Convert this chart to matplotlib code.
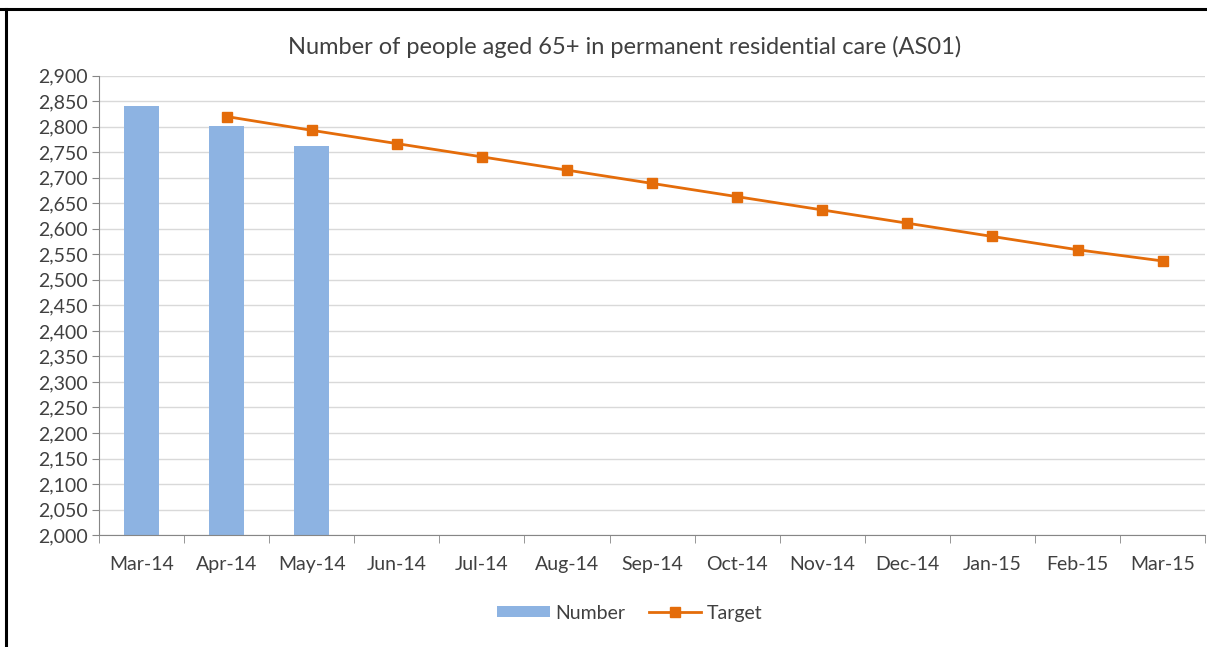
import numpy as np
import matplotlib
matplotlib.use("Agg")
import matplotlib.pyplot as plt
from matplotlib.ticker import FuncFormatter, MultipleLocator

plt.rcParams['font.family'] = ['Lato', 'DejaVu Sans']

months = ["Mar-14", "Apr-14", "May-14", "Jun-14", "Jul-14", "Aug-14", "Sep-14",
          "Oct-14", "Nov-14", "Dec-14", "Jan-15", "Feb-15", "Mar-15"]
number = [2841, 2802, 2763]
target = [np.nan, 2820, 2793, 2767, 2741, 2715, 2689, 2663, 2637, 2611,
          2585, 2559, 2537]

bar_color = "#8DB3E2"
line_color = "#E46C0A"
text_color = "#404040"

fig = plt.figure(figsize=(12.07, 6.47), dpi=100)
ax = fig.add_axes([0.082, 0.173, 0.9165, 0.71])

x = np.arange(len(months))
bars = ax.bar(x[:len(number)], number, width=0.41, color=bar_color, label="Number", zorder=2)
line, = ax.plot(x, target, color=line_color, lw=2, marker="s", ms=7.5, label="Target", zorder=3)

ax.set_xlim(-0.5, len(months) - 0.5)
ax.set_ylim(2000, 2900)
ax.yaxis.set_major_locator(MultipleLocator(50))
ax.yaxis.set_major_formatter(FuncFormatter(lambda v, p: f"{int(v):,}"))
ax.grid(axis="y", color="#D9D9D9", lw=1, zorder=0)

ax.set_xticks(x)
ax.set_xticklabels(months)
ax.set_xticks(np.arange(-0.5, len(months)), minor=True)
ax.tick_params(axis="x", which="major", length=0, pad=15, labelsize=14, labelcolor=text_color)
ax.tick_params(axis="x", which="minor", length=6, color="#868686")
ax.tick_params(axis="y", length=5, color="#868686", labelsize=14, labelcolor=text_color, pad=3)

for s in ["top", "right"]:
    ax.spines[s].set_visible(False)
for s in ["left", "bottom"]:
    ax.spines[s].set_color("#868686")

fig.text(625 / 1207, 1 - 47 / 647,
         "Number of people aged 65+ in permanent residential care (AS01)",
         fontsize=17, color=text_color, ha="center", va="center")

leg = ax.legend([bars, line], ["Number", "Target"], loc="center",
                bbox_to_anchor=(0.48, -0.17), ncol=2, frameon=False,
                fontsize=14, handlelength=2.7, handleheight=0.5,
                columnspacing=1.2, handletextpad=0.3)
for t in leg.get_texts():
    t.set_color(text_color)

# cell border lines
fig.add_artist(plt.Line2D([0, 1], [1 - 9 / 647, 1 - 9 / 647], color="black", lw=2.2))
fig.add_artist(plt.Line2D([5.5 / 1207, 5.5 / 1207], [0, 1 - 9 / 647], color="black", lw=2.2))

fig.savefig("out.png", dpi=100)
